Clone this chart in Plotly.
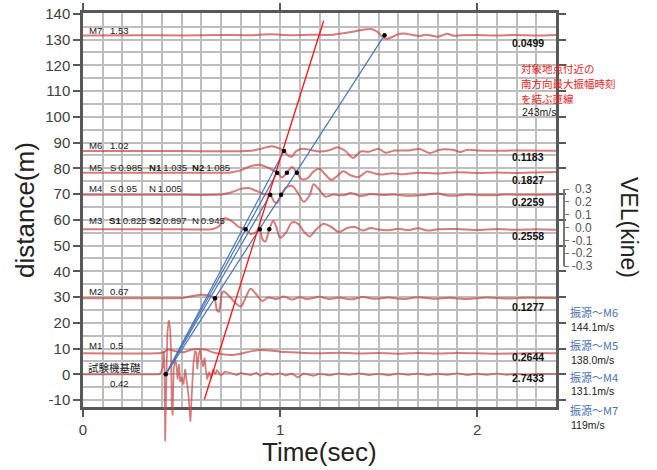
import plotly.graph_objects as go

# ---------------- data ----------------
X_TICKS = [0, 1, 2]
X_TICK_TEXT = ["0", "1", "2"]
Y_TICKS = [-10, 0, 10, 20, 30, 40, 50, 60, 70, 80, 90, 100, 110, 120, 130, 140]
Y_TICK_TEXT = ["-10", "0", "10", "20", "30", "40", "50", "60", "70", "80", "90", "100", "110", "120", "130", "140"]
VEL_TICKS = [0.3, 0.2, 0.1, 0.0, -0.1, -0.2, -0.3]
VEL_TICK_TEXT = ["\u20080.3", "\u20080.2", "\u20080.1", "\u20080.0", "-0.1", "-0.2", "-0.3"]

M7_T = [0, 0.3, 0.5, 0.7, 0.85, 0.95, 1.05, 1.15, 1.25, 1.3, 1.36, 1.42, 1.46, 1.49, 1.52, 1.54, 1.57, 1.6, 1.63, 1.67, 1.71, 1.74, 1.77, 1.8, 1.83, 1.85, 1.88, 1.92, 2.0, 2.1, 2.2, 2.3, 2.4]
M7_D = [131.6, 131.7, 131.6, 131.8, 131.7, 132.0, 131.7, 131.9, 131.8, 132.2, 132.9, 133.8, 134.1, 133.2, 131.0, 130.3, 131.0, 132.1, 132.3, 131.8, 131.4, 131.9, 131.5, 131.1, 131.8, 132.2, 131.5, 131.7, 131.8, 131.6, 131.8, 131.6, 131.8]

M6_T = [0, 0.5, 0.85, 0.9, 0.95, 0.98, 1.02, 1.04, 1.06, 1.08, 1.11, 1.15, 1.2, 1.25, 1.29, 1.33, 1.37, 1.41, 1.45, 1.5, 1.535, 1.58, 1.65, 1.71, 1.76, 1.81, 1.88, 1.915, 1.95, 2.0, 2.1, 2.2, 2.4]
M6_D = [86.7, 86.7, 86.8, 87.5, 88.5, 88.2, 86.7, 85.0, 84.5, 86.5, 87.6, 87.2, 86.5, 87.0, 88.2, 86.8, 84.0, 86.5, 86.4, 87.6, 86.0, 86.9, 86.9, 87.5, 85.9, 87.2, 87.1, 86.3, 87.2, 86.9, 86.8, 86.9, 86.8]

M5_T = [0, 0.5, 0.75, 0.8, 0.85, 0.9, 0.94, 0.985, 1.01, 1.035, 1.06, 1.085, 1.11, 1.14, 1.17, 1.2, 1.23, 1.26, 1.29, 1.32, 1.36, 1.4, 1.44, 1.48, 1.52, 1.57, 1.62, 1.7, 1.8, 1.9, 2.0, 2.1, 2.2, 2.3, 2.4]
M5_D = [78.3, 78.3, 78.4, 79.2, 80.8, 81.3, 80.2, 78.3, 76.5, 78.3, 80.5, 78.3, 75.8, 76.2, 78.8, 79.8, 77.5, 75.5, 77.0, 78.8, 77.2, 76.6, 78.7, 78.0, 77.6, 78.1, 77.7, 78.3, 78.0, 78.5, 78.2, 78.4, 78.2, 78.4, 78.6]

M4_T = [0, 0.5, 0.7, 0.75, 0.8, 0.84, 0.88, 0.92, 0.95, 0.97, 0.985, 1.005, 1.03, 1.06, 1.09, 1.12, 1.15, 1.17, 1.2, 1.23, 1.27, 1.32, 1.36, 1.41, 1.46, 1.52, 1.58, 1.65, 1.72, 1.8, 1.86, 1.95, 2.05, 2.15, 2.25, 2.4]
M4_D = [69.7, 69.7, 69.8, 70.6, 72.0, 72.3, 71.2, 69.9, 69.7, 67.0, 66.5, 69.7, 72.5, 73.2, 70.5, 67.0, 69.5, 73.8, 71.5, 69.0, 69.8, 69.5, 70.4, 69.2, 70.0, 69.6, 69.8, 69.3, 69.6, 70.2, 69.3, 69.8, 69.5, 69.8, 69.7, 69.8]

M3_T = [0, 0.5, 0.66, 0.69, 0.72, 0.75, 0.79, 0.825, 0.85, 0.875, 0.897, 0.91, 0.925, 0.945, 0.965, 0.98, 1.0, 1.03, 1.06, 1.09, 1.12, 1.15, 1.18, 1.22, 1.26, 1.3, 1.34, 1.38, 1.42, 1.46, 1.5, 1.55, 1.6, 1.65, 1.7, 1.75, 1.8, 1.9, 2.0, 2.1, 2.2, 2.3, 2.4]
M3_D = [56.3, 56.3, 56.4, 57.5, 60.6, 59.8, 57.2, 56.3, 54.5, 55.0, 56.3, 52.5, 51.5, 56.3, 59.5, 57.5, 53.0, 55.0, 59.0, 58.5, 55.5, 53.5, 56.0, 58.5, 57.2, 55.2, 56.8, 57.2, 55.8, 56.8, 56.2, 55.9, 56.5, 56.0, 56.7, 55.8, 56.3, 56.4, 56.0, 56.4, 56.1, 56.3, 56.1]

M2_T = [0, 0.45, 0.5, 0.55, 0.6, 0.64, 0.667, 0.68, 0.69, 0.705, 0.715, 0.74, 0.77, 0.8, 0.82, 0.85, 0.88, 0.91, 0.94, 0.98, 1.02, 1.06, 1.1, 1.14, 1.2, 1.25, 1.3, 1.36, 1.42, 1.48, 1.55, 1.62, 1.7, 1.78, 1.86, 1.95, 2.05, 2.15, 2.25, 2.4]
M2_D = [29.5, 29.5, 29.6, 30.3, 30.9, 30.6, 29.5, 24.8, 24.3, 31.5, 32.2, 30.5, 28.0, 26.3, 28.8, 33.2, 31.0, 28.5, 29.8, 29.2, 30.2, 29.0, 29.9, 29.2, 30.1, 29.2, 29.8, 29.1, 30.0, 29.3, 29.8, 29.2, 29.9, 29.3, 29.7, 29.2, 29.8, 29.4, 29.7, 29.6]

M1_T = [0, 0.38, 0.41, 0.43, 0.47, 0.51, 0.55, 0.58, 0.62, 0.66, 0.7, 0.75, 0.8, 0.85, 0.9, 0.95, 1.0, 1.05, 1.1, 1.2, 1.3, 1.4, 1.5, 1.6, 1.7, 1.8, 1.9, 2.0, 2.1, 2.2, 2.3, 2.4]
M1_D = [8.2, 8.2, 8.5, 9.6, 9.0, 8.6, 9.5, 9.8, 9.6, 8.5, 7.9, 7.5, 8.0, 8.9, 9.4, 9.2, 8.8, 8.6, 8.4, 8.2, 8.4, 8.1, 8.3, 8.0, 8.3, 8.1, 8.3, 8.2, 8.0, 8.1, 8.3, 8.2]

BASE_T = [0, 0.38, 0.395, 0.405, 0.41, 0.413, 0.417, 0.42, 0.423, 0.428, 0.435, 0.442, 0.447, 0.45, 0.455, 0.46, 0.468, 0.475, 0.48, 0.487, 0.493, 0.5, 0.51, 0.518, 0.525, 0.535, 0.545, 0.552, 0.56, 0.568, 0.575, 0.58, 0.588, 0.595, 0.6, 0.61, 0.617, 0.623, 0.63, 0.64, 0.65, 0.66, 0.67, 0.68, 0.7, 0.72, 0.75, 0.78, 0.8, 0.85, 0.88, 0.9, 0.93, 0.96, 1.0, 1.03, 1.06, 1.09, 1.12, 1.17, 1.2, 1.25, 1.3, 1.35, 1.4, 1.45, 1.5, 1.55, 1.6, 1.65, 1.7, 1.75, 1.8, 1.85, 1.9, 1.95, 2.0, 2.05, 2.1, 2.15, 2.2, 2.25, 2.3, 2.35, 2.4]
BASE_D = [0, 0, 0.5, 3, 9, 4, -26, -10, -5, 16, 21, 18, 8, -12, -16, 2, 6, 3, -2, 4, -3, -1, -4, 2, -2, -8, -18.4, -6, 4, 9, 8.5, 2, 8, 9.5, 6, 3, 6.5, 2, -2, 1, -1.5, 2, 0, 1.5, -0.5, 1, 0.5, -0.3, 0.5, -0.3, 0.6, -0.6, 0.4, -0.2, 0.4, -0.5, 0.3, -1.2, 0.3, -0.6, 0.2, -0.4, 0.3, -0.2, 0.4, -0.3, 0.2, -0.4, 0.3, -0.2, 0.3, -0.3, 0.2, -0.2, 0.4, -0.3, 0.2, -0.2, 0.3, -0.2, 0.2, -0.3, 0.2, 0.1, 0.2]

# picked arrival points (time, distance)
DOT_T = [0.42, 0.67, 0.825, 0.897, 0.945, 0.95, 1.005, 0.985, 1.035, 1.085, 1.02, 1.53]
DOT_D = [0.0, 29.5, 56.3, 56.3, 56.3, 69.7, 69.7, 78.3, 78.3, 78.3, 86.7, 131.7]

# blue lines: source (origin) -> station arrival
SRC_T, SRC_D = 0.42, 0.0
BLUE_END_T = [1.53, 1.02, 0.985, 0.95]
BLUE_END_D = [131.7, 86.7, 78.3, 69.7]

# red line (243 m/s)
RED_T = [0.616, 1.221]
RED_D = [-9.7, 137.3]

# ---------------- layout geometry ----------------
W, H = 657, 470
ML, MR, MT, MB = 83, 57, 13, 20
PW = W - ML - MR
PH = H - MT - MB


def X(px):
    return (px - ML) / PW


def Y(py):
    return (H - MB - py) / PH


X_DOMAIN = [0, X(556)]
Y_MAIN_DOMAIN = [Y(407), 1]
T_RANGE = [0, 2.4]
D_RANGE = [-12.7, 140.3]
main_h_px = (Y_MAIN_DOMAIN[1] - Y_MAIN_DOMAIN[0]) * PH
px_per_unit = main_h_px / (D_RANGE[1] - D_RANGE[0])
D3_RANGE = [D_RANGE[1] - PH / px_per_unit, D_RANGE[1]]

WAVE_COLOR = "rgba(200,70,70,0.72)"
BLUE = "#4a76b8"
GRID = "#bdbdbd"
AXC = "#585858"

fig = go.Figure()

# dummy traces so the axes are drawn
fig.add_trace(go.Scatter(x=[0], y=[0], mode="markers", marker=dict(opacity=0),
                         hoverinfo="skip", showlegend=False, xaxis="x", yaxis="y"))
fig.add_trace(go.Scatter(x=[0], y=[0], mode="markers", marker=dict(opacity=0),
                         hoverinfo="skip", showlegend=False, xaxis="x3", yaxis="y2"))

waves = [(M7_T, M7_D), (M6_T, M6_D), (M5_T, M5_D), (M4_T, M4_D),
         (M3_T, M3_D), (M2_T, M2_D), (M1_T, M1_D)]
for t, d in waves:
    fig.add_trace(go.Scatter(x=t, y=d, mode="lines", line=dict(color=WAVE_COLOR, width=2, shape="spline", smoothing=0.8),
                             hoverinfo="skip", showlegend=False, xaxis="x2", yaxis="y3"))
fig.add_trace(go.Scatter(x=BASE_T, y=BASE_D, mode="lines", line=dict(color=WAVE_COLOR, width=1.7),
                         hoverinfo="skip", showlegend=False, xaxis="x2", yaxis="y3"))

for te, de in zip(BLUE_END_T, BLUE_END_D):
    fig.add_trace(go.Scatter(x=[SRC_T, te], y=[SRC_D, de], mode="lines", line=dict(color=BLUE, width=1.2),
                             hoverinfo="skip", showlegend=False, xaxis="x2", yaxis="y3"))

fig.add_trace(go.Scatter(x=RED_T, y=RED_D, mode="lines", line=dict(color="#ff1010", width=1.3),
                         hoverinfo="skip", showlegend=False, xaxis="x2", yaxis="y3"))

fig.add_trace(go.Scatter(x=DOT_T, y=DOT_D, mode="markers", marker=dict(color="black", size=4.5),
                         hoverinfo="skip", showlegend=False, xaxis="x2", yaxis="y3"))

# ---------------- annotations ----------------
ann = []
SANS = "Liberation Sans"
CJK = "Noto Sans CJK JP"


def add(text, px, py, anchor="left", size=9.6, color="#222", family=SANS, angle=0, align="left"):
    ann.append(dict(text=text, x=X(px), y=Y(py), xref="paper", yref="paper",
                    xanchor=anchor, yanchor="middle", showarrow=False, textangle=angle, align=align,
                    font=dict(size=size, color=color, family=family)))


# station labels
add("M7", 87, 30.5); add("1.53", 108, 30.5)
add("M6", 87, 145); add("1.02", 108, 145)
add("M5", 87, 167); add("S\u20090.985", 108, 167); add("<b>N1</b>\u20091.035", 147, 167); add("<b>N2</b>\u20091.085", 190, 167)
add("M4", 87, 188); add("S\u20090.95", 108, 188); add("N\u20091.005", 147, 188)
add("M3", 87, 220); add("<b>S1</b>\u20090.825", 107, 220); add("<b>S2</b>\u20090.897", 147, 220); add("N\u20090.945", 190, 220)
add("M2", 87, 291); add("0.67", 108, 291)
add("M1", 87, 345); add("0.5", 108, 345)
add("試験機基礎", 86, 367, size=10.5, family=CJK)
add("0.42", 108, 383)

# max amplitude values
for txt, py in [("0.0499", 43.3), ("0.1183", 157.3), ("0.1827", 180), ("0.2259", 201.7),
                ("0.2558", 236), ("0.1277", 306.7), ("0.2644", 357.3), ("2.7433", 378.3)]:
    add("<b>" + txt + "</b>", 546, py, anchor="right", size=10.5, color="#111")

# red note + speed
for line, py in zip(["対象地点付近の", "南方向最大振幅時刻", "を結ぶ直線"], [68.5, 83.5, 98.5]):
    add(line, 519, py, size=10.5, color="#ee2222", family=CJK)
add("243m/s", 520, 112, size=10.5, color="#222")

# velocities
VEL_LAB_PY = [312.3, 345, 376.7, 410]
for lab, val, py in zip(["振源～M6", "振源～M5", "振源～M4", "振源～M7"],
                        ["144.1m/s", "138.0m/s", "131.1m/s", "119m/s"], VEL_LAB_PY):
    add(lab, 568, py, size=11, color="#4a72b0", family=CJK)
    add(val, 569, py + 14.5, size=10.5, color="#222")

# axis titles
add("distance(m)", 25, 210, anchor="center", size=26, color="#222", angle=-90)
add("Time(sec)", 319.5, 452, anchor="center", size=26, color="#222")
add("VEL(kine)", 629, 227, anchor="center", size=23, color="#222", angle=90)

axis_common = dict(showline=True, linecolor=AXC, linewidth=2.5, ticks="outside", ticklen=7,
                   tickwidth=1.5, tickcolor=AXC, mirror="ticks", zeroline=False,
                   gridcolor=GRID, gridwidth=1.5, showgrid=True, automargin=False,
                   tickfont=dict(family=SANS, size=15, color="#404040"))

fig.update_layout(
    width=W, height=H,
    margin=dict(l=ML, r=MR, t=MT, b=MB, autoexpand=False),
    paper_bgcolor="white", plot_bgcolor="rgba(0,0,0,0)",
    showlegend=False,
    annotations=ann,
    xaxis=dict(domain=X_DOMAIN, range=T_RANGE, anchor="y", tickmode="array", tickvals=X_TICKS, ticktext=X_TICK_TEXT,
               minor=dict(tickmode="linear", tick0=0, dtick=0.1, showgrid=True, gridcolor=GRID, gridwidth=1.5, ticks=""),
               **axis_common),
    yaxis=dict(domain=Y_MAIN_DOMAIN, range=D_RANGE, anchor="x", tickmode="array", tickvals=Y_TICKS, ticktext=Y_TICK_TEXT,
               minor=dict(tickmode="linear", tick0=0, dtick=5, showgrid=True, gridcolor=GRID, gridwidth=1.5, ticks=""),
               **axis_common),
    xaxis2=dict(domain=X_DOMAIN, range=T_RANGE, anchor="y3", visible=False),
    yaxis3=dict(domain=[0, 1], range=D3_RANGE, anchor="x2", visible=False),
    xaxis3=dict(domain=X_DOMAIN, range=T_RANGE, anchor="y2", visible=False),
    yaxis2=dict(domain=[Y(266), Y(189)], range=[-0.3, 0.3], anchor="free", position=X(563.5), side="right",
                tickmode="array", tickvals=VEL_TICKS, ticktext=VEL_TICK_TEXT, automargin=False,
                showline=True, linecolor="#777", linewidth=1.5, ticks="outside", ticklen=5, tickcolor="#777",
                showgrid=False, zeroline=False, tickfont=dict(family=SANS, size=12, color="#555")),
)

fig.write_html("out.html", config={"displayModeBar": False},
               post_script="document.body.style.margin='0';document.body.style.padding='0';")
